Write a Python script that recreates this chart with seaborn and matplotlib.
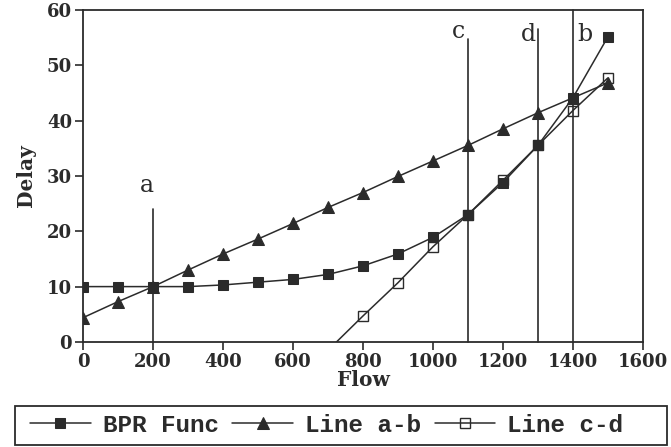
import matplotlib
matplotlib.use("Agg")
import matplotlib.pyplot as plt
import seaborn as sns
import pandas as pd
from matplotlib.patches import Rectangle

# ---- data ----
flow = [0, 100, 200, 300, 400, 500, 600, 700, 800, 900, 1000, 1100, 1200, 1300, 1400, 1500]
bpr_func = [10.0, 10.0, 10.0, 10.0, 10.3, 10.8, 11.3, 12.2, 13.75, 15.9, 18.9, 23.0, 28.8, 35.5, 44.1, 55.1]
line_ab = [4.4, 7.3, 10.0, 13.0, 15.9, 18.6, 21.4, 24.3, 27.0, 29.9, 32.7, 35.5, 38.5, 41.4, 44.1, 46.8]
flow_cd = [700, 800, 900, 1000, 1100, 1200, 1300, 1400, 1500]
line_cd = [-1.5, 4.7, 10.7, 17.2, 23.0, 29.2, 35.5, 41.8, 47.7]

series_names = ["BPR Func", "Line a-b", "Line c-d"]

marker_flows = ["a", "c", "d", "b"]
marker_x = [200, 1100, 1300, 1400]
marker_top = [24.0, 54.8, 56.6, 60.0]
label_x = [183, 1072, 1272, 1434]
label_y = [28.3, 56.0, 55.6, 55.6]

x_ticks = [0, 200, 400, 600, 800, 1000, 1200, 1400, 1600]
y_ticks = [0, 10, 20, 30, 40, 50, 60]

# ---- plotting ----
sns.set_style("ticks")
plt.rcParams["font.family"] = ["DejaVu Serif"]

ink = "#2b2b2b"
fig = plt.figure(figsize=(6.71, 4.47), dpi=100)
ax = fig.add_axes([0.124, 0.235, 0.834, 0.743])

df_bpr = pd.DataFrame({"Flow": flow, "Delay": bpr_func})
df_ab = pd.DataFrame({"Flow": flow, "Delay": line_ab})
df_cd = pd.DataFrame({"Flow": flow_cd, "Delay": line_cd})

sns.lineplot(data=df_bpr, x="Flow", y="Delay", ax=ax, color=ink, lw=1.1,
             marker="s", markersize=7, markeredgecolor=ink, markerfacecolor=ink,
             label=series_names[0])
sns.lineplot(data=df_ab, x="Flow", y="Delay", ax=ax, color=ink, lw=1.1,
             marker="^", markersize=9, markeredgecolor=ink, markerfacecolor=ink,
             label=series_names[1])
sns.lineplot(data=df_cd, x="Flow", y="Delay", ax=ax, color=ink, lw=1.1,
             marker="s", markersize=6.5, markeredgecolor=ink, markerfacecolor="none",
             markeredgewidth=1.0, label=series_names[2])

for name, xv, top, lx, ly in zip(marker_flows, marker_x, marker_top, label_x, label_y):
    ax.plot([xv, xv], [0, top], color=ink, lw=1.2, clip_on=False)
    ax.text(lx, ly, name, ha="center", va="center", fontsize=17, color=ink,
            family="DejaVu Serif")

ax.set_xlim(0, 1600)
ax.set_ylim(0, 60)
ax.set_xticks(x_ticks)
ax.set_yticks(y_ticks)
ax.tick_params(axis="both", direction="out", length=6, width=1.2, color=ink,
               labelsize=13, labelcolor=ink, pad=2)
for lab in ax.get_xticklabels() + ax.get_yticklabels():
    lab.set_fontweight("bold")
for sp in ax.spines.values():
    sp.set_visible(True)
    sp.set_color(ink)
    sp.set_linewidth(1.3)

ax.set_xlabel("Flow", fontsize=14.5, fontweight="bold", color=ink, labelpad=-1)
ax.set_ylabel("Delay", fontsize=14.5, fontweight="bold", color=ink, labelpad=8)

handles, labels = ax.get_legend_handles_labels()
ax.get_legend().remove()
fig.patches.append(Rectangle((15 / 671, 1 - 445 / 447), 652 / 671, 39 / 447,
                             transform=fig.transFigure, fill=False,
                             edgecolor=ink, lw=1.3))
fig.legend(handles, labels, ncol=3, loc="center left",
           bbox_to_anchor=(30 / 671, 1 - 425 / 447), frameon=False,
           prop={"family": "Liberation Mono", "weight": "bold", "size": 17.5},
           handlelength=2.5, handletextpad=0.5, columnspacing=0.55,
           borderaxespad=0, borderpad=0, labelcolor=ink)

fig.savefig("out.png", dpi=100)
